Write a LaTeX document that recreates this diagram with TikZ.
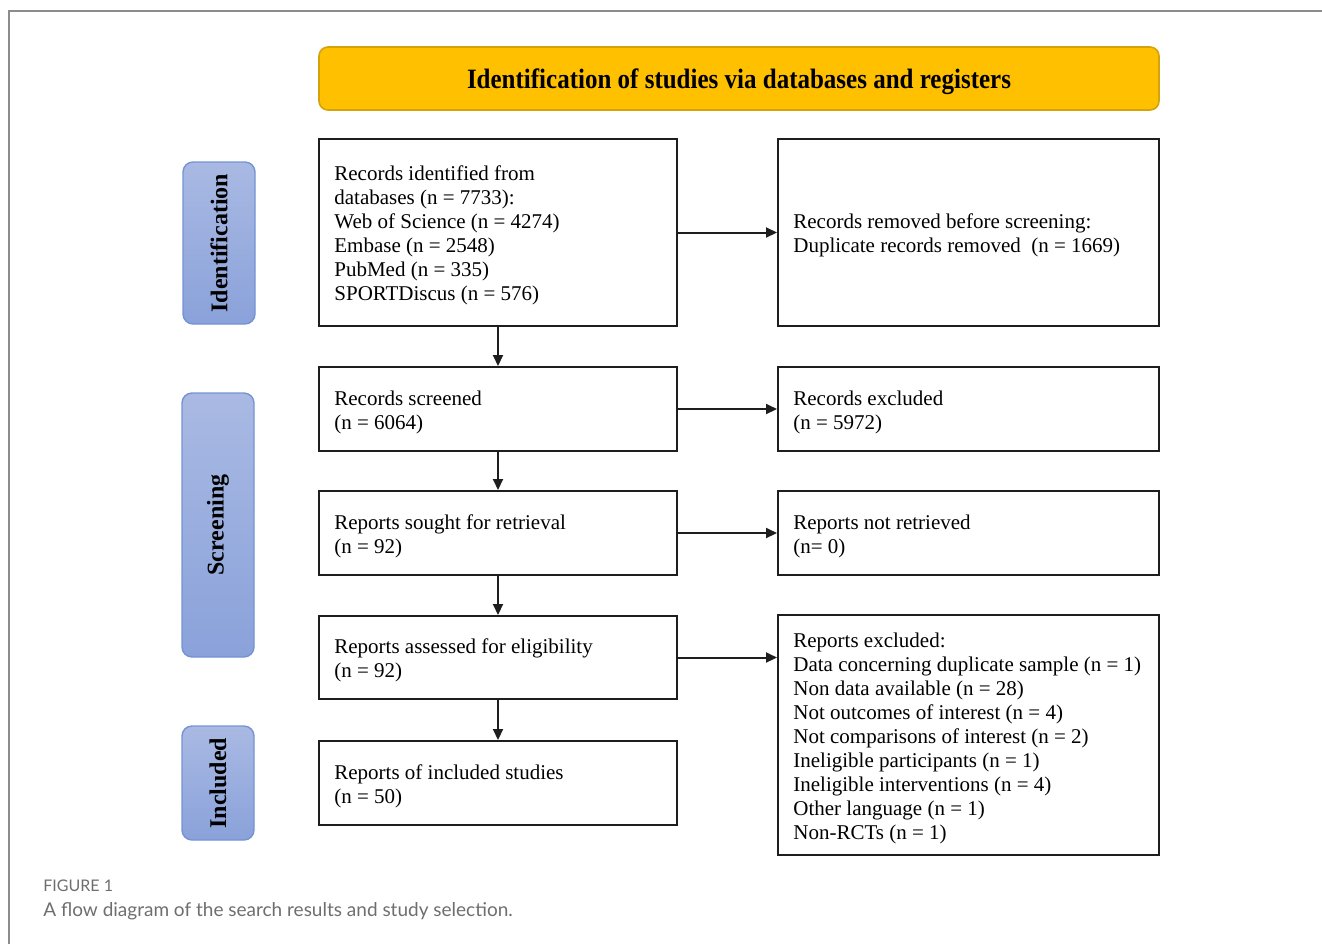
\documentclass[tikz,border=0pt]{standalone}
\usepackage{fontspec}
\setmainfont{Liberation Serif}
\newfontfamily\capfont{Lato}
\usetikzlibrary{arrows.meta}
\definecolor{frameg}{HTML}{8C8C8C}
\definecolor{orfill}{HTML}{FFC000}
\definecolor{ordraw}{HTML}{D4A20A}
\definecolor{bltop}{HTML}{A9B9E3}
\definecolor{blbot}{HTML}{8AA2DA}
\definecolor{bldraw}{HTML}{7493D4}
\definecolor{capg}{HTML}{6E6E6E}
\definecolor{boxd}{HTML}{1E1E1E}
\tikzset{
  x=0.5pt, y=-0.5pt,
  boxL/.style={draw=boxd, line width=1pt, minimum width=179pt, minimum height=#1, inner sep=0pt},
  boxR/.style={draw=boxd, line width=1pt, minimum width=190.5pt, minimum height=#1, inner sep=0pt},
  btext/.style={anchor=west, align=left, inner sep=0pt, font=\fontsize{10.5}{12}\selectfont},
  stage/.style={draw=bldraw, line width=0.7pt, rounded corners=5pt, top color=bltop, bottom color=blbot,
     minimum width=36pt, minimum height=#1, inner sep=0pt},
  stagetxt/.style={rotate=90, font=\fontsize{12}{14}\selectfont\bfseries},
  flow/.style={draw=boxd, line width=1pt, -{Triangle[length=5.5pt,width=5pt]}},
}
\begin{document}
\begin{tikzpicture}
\useasboundingbox (0,0) rectangle (1322,944);
% frame
\draw[frameg, line width=0.7pt] (9,944) -- (9,11) -- (1322,11);
% title
\node[draw=ordraw, line width=0.8pt, fill=orfill, rounded corners=4.5pt, minimum width=420pt, minimum height=31.5pt] (title) at (739,78.5) {};
\node[inner sep=0pt, yscale=1.12, font=\fontsize{12.5}{14}\selectfont\bfseries] (titletxt) at ([yshift=-1.5pt]title.center) {Identification of studies via databases and registers};
% stage labels
\node[stage=81pt] (sid) at (219,243) {};
\node[stagetxt] (sidt) at (sid.center) {Identification};
\node[stage=132pt] (ssc) at (218,525) {};
\node[stagetxt] (ssct) at (ssc.center) {Screening};
\node[stage=57pt] (sin) at (218,783) {};
\node[stagetxt] (sint) at (sin.center) {Included};
% left boxes
\node[boxL=93.5pt] (b1) at (498,232.5) {};
\node[btext] (t1) at ([xshift=8pt,yshift=-1.5pt]b1.west) {Records identified from\\databases (n = 7733):\\Web of Science (n = 4274)\\Embase (n = 2548)\\PubMed (n = 335)\\SPORTDiscus (n = 576)};
\node[boxL=42pt] (b3) at (498,409) {};
\node[btext] (t3) at ([xshift=8pt,yshift=-1.5pt]b3.west) {Records screened\\(n = 6064)};
\node[boxL=42pt] (b5) at (498,533) {};
\node[btext] (t5) at ([xshift=8pt,yshift=-1.5pt]b5.west) {Reports sought for retrieval\\(n = 92)};
\node[boxL=41.5pt] (b7) at (498,657.5) {};
\node[btext] (t7) at ([xshift=8pt,yshift=-1.5pt]b7.west) {Reports assessed for eligibility\\(n = 92)};
\node[boxL=42pt] (b9) at (498,783) {};
\node[btext] (t9) at ([xshift=8pt,yshift=-1.5pt]b9.west) {Reports of included studies\\(n = 50)};
% right boxes
\node[boxR=93.5pt] (b2) at (968.5,232.5) {};
\node[btext] (t2) at ([xshift=8pt,yshift=-1.5pt]b2.west) {Records removed before screening:\\Duplicate records removed\ \ (n = 1669)};
\node[boxR=42pt] (b4) at (968.5,409) {};
\node[btext] (t4) at ([xshift=8pt,yshift=-1.5pt]b4.west) {Records excluded\\(n = 5972)};
\node[boxR=42pt] (b6) at (968.5,533) {};
\node[btext] (t6) at ([xshift=8pt,yshift=-1.5pt]b6.west) {Reports not retrieved\\(n= 0)};
\node[boxR=120pt] (b8) at (968.5,735) {};
\node[btext] (t8) at ([xshift=8pt,yshift=-1.5pt]b8.west) {Reports excluded:\\Data concerning duplicate sample (n = 1)\\Non data available (n = 28)\\Not outcomes of interest (n = 4)\\Not comparisons of interest (n = 2)\\Ineligible participants (n = 1)\\Ineligible interventions (n = 4)\\Other language (n = 1)\\Non-RCTs (n = 1)};
% arrows
\draw[flow] (b1.south) -- (b3.north);
\draw[flow] (b3.south) -- (b5.north);
\draw[flow] (b5.south) -- (b7.north);
\draw[flow] (b7.south) -- (b9.north);
\draw[flow] (b1.east) -- (b2.west);
\draw[flow] (b3.east) -- (b4.west);
\draw[flow] (b5.east) -- (b6.west);
\draw[flow] (b7.east) -- (b7.east -| b8.west);
% caption
\node[anchor=base west, inner sep=0pt, text=capg, font=\capfont\fontsize{8}{10}\selectfont] (fig) at (43,891) {FIGURE 1};
\node[anchor=base west, inner sep=0pt, text=capg, font=\capfont\fontsize{9.5}{12}\selectfont] (cap) at (43,916) {A flow diagram of the search results and study selection.};
\end{tikzpicture}
\end{document}
